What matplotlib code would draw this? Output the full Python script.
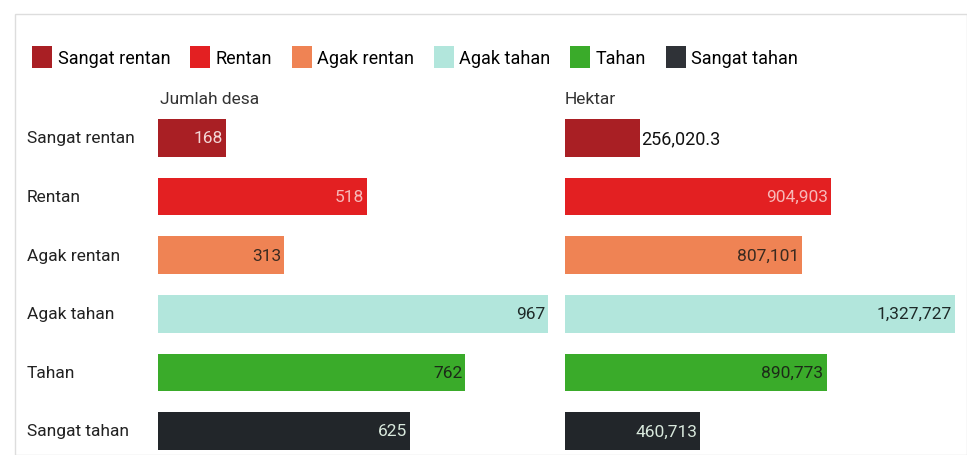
import matplotlib.pyplot as plt
from matplotlib.patches import Patch, Rectangle

categories = ["Sangat rentan", "Rentan", "Agak rentan", "Agak tahan", "Tahan", "Sangat tahan"]
jumlah_desa = [168, 518, 313, 967, 762, 625]
hektar = [256020.3, 904903, 807101, 1327727, 890773, 460713]
desa_labels = ["168", "518", "313", "967", "762", "625"]
hektar_labels = ["256,020.3", "904,903", "807,101", "1,327,727", "890,773", "460,713"]
colors = ["#a91f24", "#e32022", "#ef8354", "#b2e6dc", "#3aab2a", "#22262a"]
legend_colors = ["#a91f24", "#e32022", "#ef8354", "#b2e6dc", "#3aab2a", "#2f3237"]
label_colors = ["#f3d6d6", "#f7b8b8", "#3a2a20", "#1e2a28", "#1c2a18", "#d8e8dc"]

plt.rcParams["font.family"] = ["Roboto", "DejaVu Sans"]

W, H = 967, 456
fig = plt.figure(figsize=(W / 100, H / 100), dpi=100)

# faint frame around the widget
fig.add_artist(Rectangle((15 / W, 0), (W - 15) / W, (H - 15) / H, transform=fig.transFigure,
                         fill=False, edgecolor="#dddddd", linewidth=1))


def px_axes(x0, x1, y0, y1):
    return fig.add_axes([x0 / W, 1 - y1 / H, (x1 - x0) / W, (y1 - y0) / H])


row0, step = 139, 58.6
top, bottom = 110, 456
ylim = ((bottom - row0) / step, (top - row0) / step)
ys = list(range(len(categories)))

ax1 = px_axes(158, 548, top, bottom)
ax2 = px_axes(565, 955, top, bottom)

for ax, vals, labs, xmax in ((ax1, jumlah_desa, desa_labels, 967), (ax2, hektar, hektar_labels, 1327727)):
    ax.barh(ys, vals, height=0.64, color=colors)
    ax.set_xlim(0, xmax)
    ax.set_ylim(*ylim)
    ax.axis("off")
    for y, v, lab, c in zip(ys, vals, labs, label_colors):
        if ax is ax2 and y == 0:
            # short bar: value sits outside
            ax.text(v + xmax * 0.002, y, lab, va="center", ha="left", fontsize=13, color="#111111")
        else:
            ax.text(v - xmax * 0.008, y, lab, va="center", ha="right", fontsize=12.5, color=c)

for y, cat in zip(ys, categories):
    fig.text(27 / W, 1 - (row0 + step * y) / H, cat, va="center", ha="left", fontsize=12.5, color="#222222")

fig.text(160 / W, 1 - 100 / H, "Jumlah desa", va="center", ha="left", fontsize=12.5, color="#333333")
fig.text(565 / W, 1 - 100 / H, "Hektar", va="center", ha="left", fontsize=12.5, color="#333333")

handles = [Patch(facecolor=c, edgecolor="none", label=l) for c, l in zip(legend_colors, categories)]
fig.legend(handles=handles, loc="upper left", bbox_to_anchor=(16 / W, 1 - 31 / H), ncol=6,
           frameon=False, fontsize=13, handlelength=1.1, handleheight=1.5,
           handletextpad=0.3, columnspacing=1.1)

fig.savefig("out.png", dpi=100)
